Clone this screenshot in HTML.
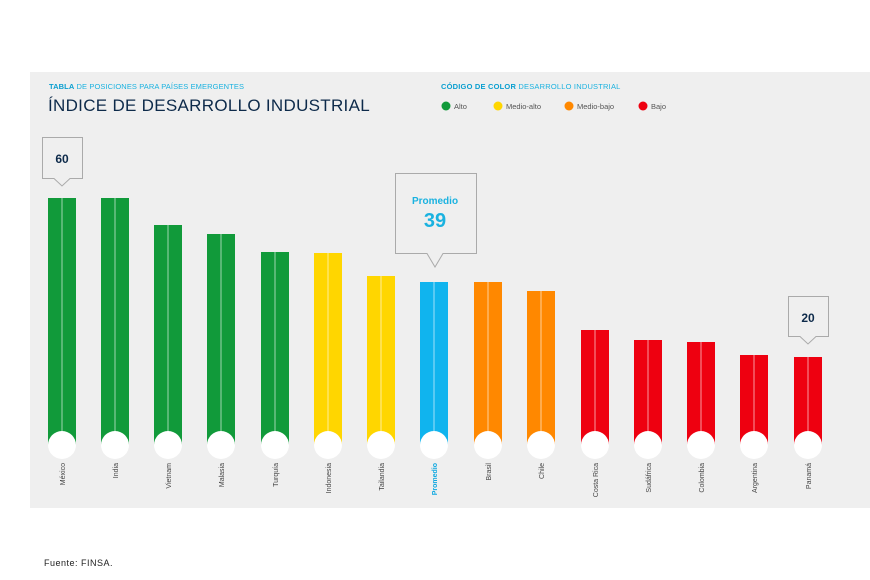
<!DOCTYPE html>
<html><head><meta charset="utf-8"><style>
body{margin:0;width:870px;height:580px;background:#fff;position:relative;font-family:"Liberation Sans",sans-serif;overflow:hidden}
.panel{position:absolute;left:30px;top:72px;width:840px;height:436px;background:#efefef}
.t{position:absolute;white-space:nowrap}
</style></head><body>
<div class="panel"></div>
<div class="t" style="left:49px;top:82px;font-size:7.5px;color:#1ab2e0;letter-spacing:0.1px"><b style="color:#0a9fd0">TABLA</b> DE POSICIONES PARA PAÍSES EMERGENTES</div>
<div class="t" style="left:48px;top:96px;font-size:17px;color:#0d2a4a;letter-spacing:0.3px">ÍNDICE DE DESARROLLO INDUSTRIAL</div>
<div class="t" style="left:441px;top:82px;font-size:7.5px;color:#1ab2e0;letter-spacing:0.2px"><b style="color:#0a9fd0">CÓDIGO DE COLOR</b> DESARROLLO INDUSTRIAL</div>
<svg width="870" height="580" style="position:absolute;left:0;top:0" font-family="Liberation Sans, sans-serif">
<g font-size="7.5" fill="#555">
<circle cx="446" cy="106" r="4.5" fill="#119a3a"/><text x="454" y="109">Alto</text>
<circle cx="498" cy="106" r="4.5" fill="#ffd600"/><text x="506" y="109">Medio-alto</text>
<circle cx="569" cy="106" r="4.5" fill="#ff8800"/><text x="577" y="109">Medio-bajo</text>
<circle cx="643" cy="106" r="4.5" fill="#ee0010"/><text x="651" y="109">Bajo</text>
</g>
<g id="bars"></g>
<path d="M42.5 137.5H82.5V178.5H70L62 186L54 178.5H42.5Z" fill="#efefef" stroke="#aaa"/>
<text x="62" y="163" text-anchor="middle" font-size="12" font-weight="bold" fill="#0d2a4a">60</text>
<path d="M395.5 173.5H476.5V253.5H443L435 267L427 253.5H395.5Z" fill="#efefef" stroke="#aaa"/>
<text x="435" y="204" text-anchor="middle" font-size="10" font-weight="bold" fill="#1ab2e0">Promedio</text>
<text x="435" y="227" text-anchor="middle" font-size="20" font-weight="bold" fill="#1ab2e0">39</text>
<path d="M788.5 296.5H828.5V336.5H816L808 344L800 336.5H788.5Z" fill="#efefef" stroke="#aaa"/>
<text x="808" y="322" text-anchor="middle" font-size="12" font-weight="bold" fill="#0d2a4a">20</text>
</svg>
<div class="t" style="left:44px;top:558px;font-size:9px;color:#222;letter-spacing:0.5px">Fuente: FINSA.</div>
<script>
var d=[["México",62,198,"#119a3a"],["India",115,198,"#119a3a"],["Vietnam",168,225,"#119a3a"],["Malasia",221,234,"#119a3a"],["Turquía",275,252,"#119a3a"],["Indonesia",328,253,"#ffd600"],["Tailandia",381,276,"#ffd600"],["Promedio",434,282,"#10b4ee"],["Brasil",488,282,"#ff8800"],["Chile",541,291,"#ff8800"],["Costa Rica",595,330,"#ee0010"],["Sudáfrica",648,340,"#ee0010"],["Colombia",701,342,"#ee0010"],["Argentina",754,355,"#ee0010"],["Panamá",808,357,"#ee0010"]];
var s="";
d.forEach(function(b){var x=b[1];
s+='<rect x="'+(x-14)+'" y="'+b[2]+'" width="28" height="'+(445-b[2])+'" fill="'+b[3]+'"/>';
s+='<line x1="'+x+'" y1="'+b[2]+'" x2="'+x+'" y2="440" stroke="rgba(255,255,255,0.6)" stroke-width="1"/>';
s+='<circle cx="'+x+'" cy="445" r="14" fill="#fff"/>';
var p=b[0]=="Promedio";
s+='<text transform="translate('+(x+3)+',463) rotate(-90)" text-anchor="end" font-size="7" '+(p?'font-weight="bold" fill="#10a8e0"':'fill="#444"')+'>'+b[0]+'</text>';});
document.getElementById("bars").innerHTML=s;
</script>
</body></html>
